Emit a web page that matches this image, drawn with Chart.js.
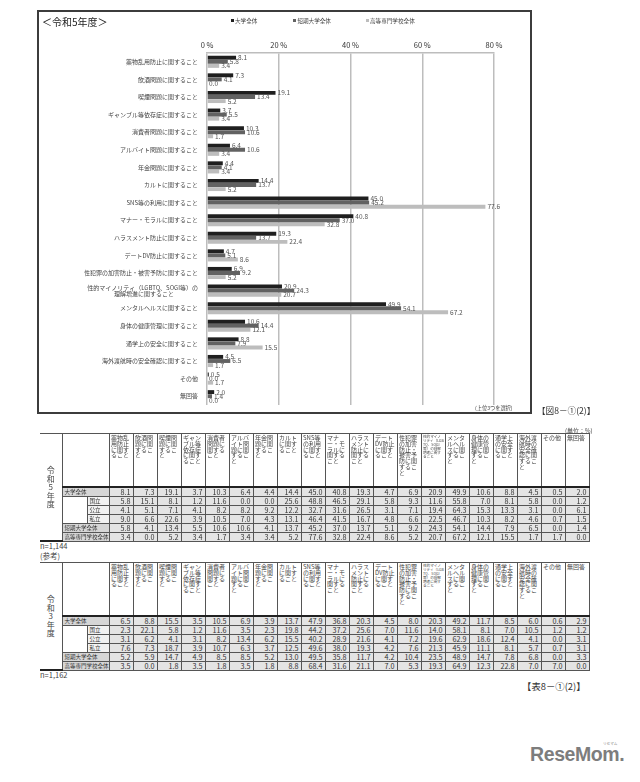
<!DOCTYPE html>
<html><head><meta charset="utf-8">
<script src="https://cdn.jsdelivr.net/npm/chart.js@4.4.1/dist/chart.umd.min.js"></script>
<style>
html,body{margin:0;padding:0;background:#fff;}
body{width:640px;height:782px;position:relative;overflow:hidden;font-family:"Noto Sans CJK JP","Noto Sans",sans-serif;color:#333;}
.abs{position:absolute;white-space:nowrap;}
#box{position:absolute;left:37px;top:10px;width:495px;height:404px;border:2px solid #3c3c3c;box-sizing:border-box;}
#chart{position:absolute;left:0;top:0;}
.sq{display:inline-block;width:3px;height:3px;margin-right:1px;vertical-align:middle;position:relative;top:-1px;}
.tb{position:absolute;left:40px;border-collapse:collapse;table-layout:fixed;width:549px;}
.tb td{padding:0;border:1px solid #555;overflow:hidden;}
.tb td.h{vertical-align:top;font-size:6px;line-height:5.8px;padding:1px 0 0 1.5px;color:#444;white-space:normal;word-break:break-all;}
.tb td.h.tiny{font-size:3.6px;line-height:4px;}
.tb td.v{text-align:right;font-size:7.2px;line-height:8px;padding-right:2px;background:#e4e4e4;color:#333;white-space:nowrap;}
.tb td.era{writing-mode:vertical-rl;text-orientation:upright;font-size:8px;border-left:none;text-align:center;vertical-align:middle;color:#444;letter-spacing:0.5px;}
.tb td.rh{font-size:5.5px;line-height:8px;padding-left:2px;background:#d6d6d6;white-space:nowrap;}
.tb td.rs{font-size:5.5px;line-height:8px;padding-left:2px;background:#f2f2f2;white-space:nowrap;}
.tb tr.hd td{border-bottom:2px solid #222;}
.tb tr.hd{height:53px;}
.tb tr.dr{height:8.7px;}
</style></head><body>
<div id="box"></div>
<canvas id="chart" width="640" height="420" style="width:640px;height:420px"></canvas>
<div class="abs" style="left:42px;top:14px;font-size:10px;color:#222;">＜令和5年度＞</div>
<div class="abs" id="legend" style="left:231px;top:17px;font-size:5.6px;color:#444;"></div>
<div class="abs" style="left:475px;top:404px;font-size:5.2px;color:#444;">(上位3つを選択)</div>
<div class="abs" style="left:537px;top:404px;font-size:8.6px;color:#333;">【図8－①(2)】</div>
<div class="abs" style="left:565px;top:426px;font-size:6px;color:#444;">(単位：%)</div>
<div class="abs" style="left:40px;top:540px;font-size:7.5px;color:#444;">n=1,144</div>
<div class="abs" style="left:40px;top:550px;font-size:7.5px;color:#444;">(参考)</div>
<div class="abs" style="left:40px;top:669px;font-size:7.5px;color:#444;">n=1,162</div>
<div class="abs" style="left:522px;top:679px;font-size:9.4px;color:#333;">【表8－①(2)】</div>
<div class="abs" style="left:530px;top:744px;font-size:19.5px;font-weight:bold;color:#7d7d7d;font-family:'Liberation Sans',Arial,sans-serif;letter-spacing:-0.4px;line-height:20px;">ReseMom.</div>
<div class="abs" style="left:603px;top:741px;font-size:3.6px;color:#888;">リセマム</div>
<script>
// ---- chart data (令和5年度) ----
const categories = [
  '薬物乱用防止に関すること','飲酒問題に関すること','喫煙問題に関すること','ギャンブル等依存症に関すること',
  '消費者問題に関すること','アルバイト問題に関すること','年金問題に関すること','カルトに関すること',
  'SNS等の利用に関すること','マナー・モラルに関すること','ハラスメント防止に関すること','デートDV防止に関すること',
  '性犯罪の加害防止・被害予防に関すること','性的マイノリティ（LGBTQ、SOGI等）の理解増進に関すること',
  'メンタルヘルスに関すること','身体の健康管理に関すること','通学上の安全に関すること','海外渡航時の安全確認に関すること',
  'その他','無回答'
];
const seriesNames = ['大学全体','短期大学全体','高等専門学校全体'];
const univAll   = [8.1,7.3,19.1,3.7,10.3,6.4,4.4,14.4,45.0,40.8,19.3,4.7,6.9,20.9,49.9,10.6,8.8,4.5,0.5,2.0];
const juniorAll = [5.8,4.1,13.4,5.5,10.6,10.6,4.1,13.7,45.2,37.0,13.7,5.1,9.2,24.3,54.1,14.4,7.9,6.5,0.0,1.4];
const kosenAll  = [3.4,0.0,5.2,3.4,1.7,3.4,3.4,5.2,77.6,32.8,22.4,8.6,5.2,20.7,67.2,12.1,15.5,1.7,1.7,0.0];
const xTickValues = [0,20,40,60,80];

// ---- table data ----
const rowLabels = ['大学全体','国立','公立','私立','短期大学全体','高等専門学校全体'];
const r5National = [5.8,15.1,8.1,1.2,11.6,0.0,0.0,25.6,48.8,46.5,29.1,5.8,9.3,11.6,55.8,7.0,8.1,5.8,0.0,1.2];
const r5Public   = [4.1,5.1,7.1,4.1,8.2,8.2,9.2,12.2,32.7,31.6,26.5,3.1,7.1,19.4,64.3,15.3,13.3,3.1,0.0,6.1];
const r5Private  = [9.0,6.6,22.6,3.9,10.5,7.0,4.3,13.1,46.4,41.5,16.7,4.8,6.6,22.5,46.7,10.3,8.2,4.6,0.7,1.5];
const r3UnivAll  = [6.5,8.8,15.5,3.5,10.5,6.9,3.9,13.7,47.9,36.8,20.3,4.5,8.0,20.3,49.2,11.7,8.5,6.0,0.6,2.9];
const r3National = [2.3,22.1,5.8,1.2,11.6,3.5,2.3,19.8,44.2,37.2,25.6,7.0,11.6,14.0,58.1,8.1,7.0,10.5,1.2,1.2];
const r3Public   = [3.1,6.2,4.1,3.1,8.2,13.4,6.2,15.5,40.2,28.9,21.6,4.1,7.2,19.6,62.9,18.6,12.4,4.1,0.0,3.1];
const r3Private  = [7.6,7.3,18.7,3.9,10.7,6.3,3.7,12.5,49.6,38.0,19.3,4.2,7.6,21.3,45.9,11.1,8.1,5.7,0.7,3.1];
const r3JuniorAll= [5.2,5.9,14.7,4.9,8.5,8.5,5.2,13.0,49.5,35.8,11.7,4.2,10.4,23.5,48.9,14.7,7.8,6.8,0.0,3.3];
const r3KosenAll = [3.5,0.0,1.8,3.5,1.8,3.5,1.8,8.8,68.4,31.6,21.1,7.0,5.3,19.3,64.9,12.3,22.8,7.0,7.0,0.0];

const colors = ['#1f1f1f','#626262','#bdbdbd'];
const FONT = '"Noto Sans CJK JP","Noto Sans",sans-serif';

// legend
document.getElementById('legend').innerHTML = seriesNames.map((n,i)=>
  '<span style="margin-right:'+(i===0?36:i===1?35:0)+'px"><span class="sq" style="background:'+colors[i]+'"></span>'+n+'</span>').join('');

// chart labels: split the long one into two lines
const chartLabels = categories.map(c=>{
  const k = c.indexOf('）の');
  return k>=0 ? [c.slice(0,k+2), c.slice(k+2)+'\u3000\u3000\u3000\u3000'] : c;
});

const valueLabels = {
  id:'valueLabels',
  afterDatasetsDraw(chart){
    const ctx = chart.ctx; ctx.save();
    ctx.font = '6.5px '+FONT; ctx.fillStyle = '#555'; ctx.textBaseline='middle'; ctx.textAlign='left';
    chart.data.datasets.forEach((ds,i)=>{
      chart.getDatasetMeta(i).data.forEach((bar,j)=>{
        ctx.fillText(ds.data[j].toFixed(1), bar.x+2, bar.y);
      });
    });
    ctx.restore();
  }
};

Chart.defaults.font.family = FONT;
new Chart(document.getElementById('chart'), {
  type:'bar',
  data:{
    labels: chartLabels,
    datasets: [univAll, juniorAll, kosenAll].map((d,i)=>({
      label: seriesNames[i], data: d, backgroundColor: colors[i], borderWidth:0,
      categoryPercentage:0.7, barPercentage:0.95
    }))
  },
  options:{
    indexAxis:'y', responsive:false, animation:false, devicePixelRatio:1,
    layout:{padding:{left:0,right:146,top:0,bottom:15}},
    plugins:{legend:{display:false}, tooltip:{enabled:false}},
    scales:{
      x:{
        position:'top', min:0, max:80,
        afterBuildTicks(s){ s.ticks = xTickValues.map(v=>({value:v})); },
        afterFit(s){ s.height = 53; },
        ticks:{callback:v=>v+' %', font:{size:7.5}, color:'#333', padding:3, maxRotation:0},
        grid:{color:'#bdbdbd', lineWidth:1.5, drawTicks:false},
        border:{display:true, color:'#bdbdbd', width:1.5}
      },
      y:{
        afterFit(s){ s.width = 207; },
        ticks:{font:{size:6, lineHeight:1.1}, color:'#444', padding:9, autoSkip:false},
        grid:{display:false, drawTicks:false},
        border:{display:false}
      }
    }
  },
  plugins:[valueLabels]
});

// tables
function buildTable(top, era, rows){
  const t = document.createElement('table'); t.className='tb'; t.style.top = top+'px';
  let h = '<colgroup><col style="width:22px"><col style="width:25px"><col style="width:22px">' +
          categories.map(()=>'<col style="width:24px">').join('') + '</colgroup>';
  h += '<tr class="hd"><td class="era" rowspan="7">'+era+'</td><td colspan="2"></td>' +
       categories.map(c=>'<td class="h'+(c.length>25?' tiny':'')+'">'+c+'</td>').join('') + '</tr>';
  rows.forEach((vals,i)=>{
    h += '<tr class="dr">';
    if(i>=1 && i<=3){
      if(i===1) h += '<td rowspan="3" style="background:#fff"></td>';
      h += '<td class="rs">'+rowLabels[i]+'</td>';
    } else {
      h += '<td class="rh" colspan="2">'+rowLabels[i]+'</td>';
    }
    h += vals.map(v=>'<td class="v">'+v.toFixed(1)+'</td>').join('') + '</tr>';
  });
  t.innerHTML = h; document.body.appendChild(t);
}
buildTable(433, '令和5年度', [univAll, r5National, r5Public, r5Private, juniorAll, kosenAll]);
buildTable(562, '令和3年度', [r3UnivAll, r3National, r3Public, r3Private, r3JuniorAll, r3KosenAll]);
</script>
</body></html>
